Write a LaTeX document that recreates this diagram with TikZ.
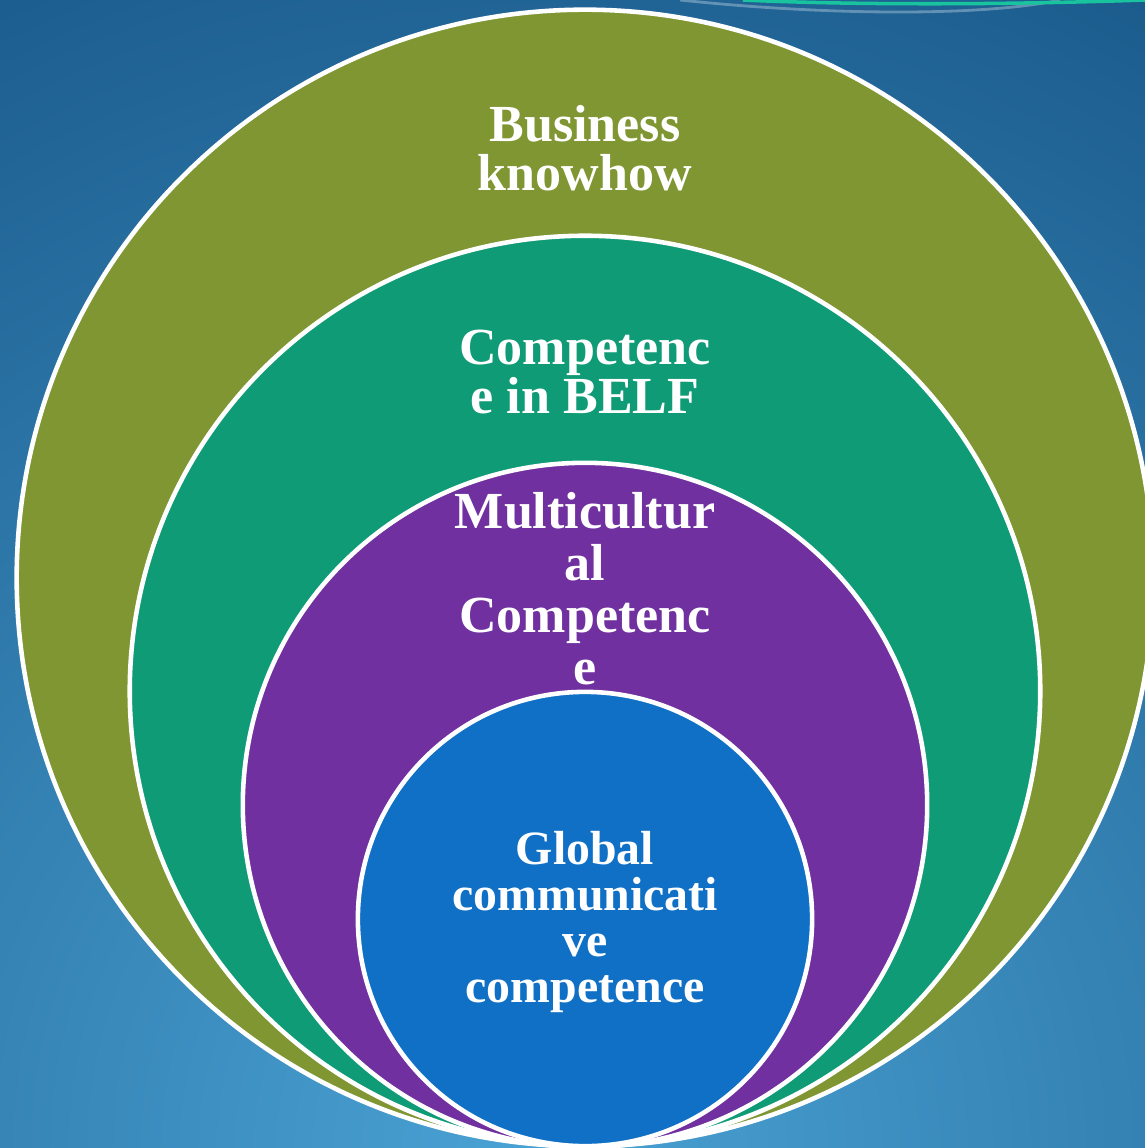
\documentclass[tikz,border=0pt]{standalone}
\usepackage{fontspec}
\setmainfont{Liberation Serif}
\usetikzlibrary{positioning}

\definecolor{bgdark}{HTML}{19598A}
\definecolor{bglight}{HTML}{4AA2D4}
\definecolor{ringolive}{HTML}{7F9632}
\definecolor{ringteal}{HTML}{109B77}
\definecolor{ringpurple}{HTML}{7030A0}
\definecolor{ringblue}{HTML}{0F70C6}
\definecolor{swoosh}{HTML}{19C39E}
\definecolor{swooshgrey}{HTML}{7FA6C2}

\tikzset{
  ring/.style={circle, draw=white, line width=1.3pt, inner sep=0pt, outer sep=0pt},
  lbl/.style={text=white, align=center, inner sep=0pt,
    font=\bfseries\fontsize{14.8}{13.8}\selectfont},
}

\begin{document}
\begin{tikzpicture}[x=0.01cm, y=-0.01cm]
    \useasboundingbox (0,0) rectangle (1145,1148);
    \clip (0,0) rectangle (1145,1148);

    % background
    \fill[bgdark] (0,0) rectangle (1145,1148);
    \shade[inner color=bglight, outer color=bgdark] (540,1148) circle (1350);
    \draw[swooshgrey, line width=0.8pt, opacity=0.7] (680,0) .. controls (820,15) and (980,17) .. (1060,0);
    \draw[swoosh, line width=1pt] (743,0) .. controls (850,5) and (1000,5) .. (1145,0);

    % rings
    \node[ring, fill=ringolive, minimum size=11.36cm] (biz) at (585,578) {};
    \node[ring, fill=ringteal, minimum size=9.10cm] (belf) at (585,691) {};
    \node[ring, fill=ringpurple, minimum size=6.84cm] (multi) at (585,805) {};
    \node[ring, fill=ringblue, minimum size=4.54cm] (glob) at (585,919) {};

    % labels
    \node[lbl] (bizlbl) at (585,148) {Business\\knowhow};
    \node[lbl] (belflbl) at (585,372) {Competenc\\e in BELF};
    \node[lbl, font=\bfseries\fontsize{14.8}{14.8}\selectfont] (multilbl) at (585,589) {Multicultur\\al\\Competenc\\e};
    \node[lbl, font=\bfseries\fontsize{13.6}{13.1}\selectfont] (globlbl) at (585,922) {Global\\communicati\\ve\\competence};
\end{tikzpicture}
\end{document}
